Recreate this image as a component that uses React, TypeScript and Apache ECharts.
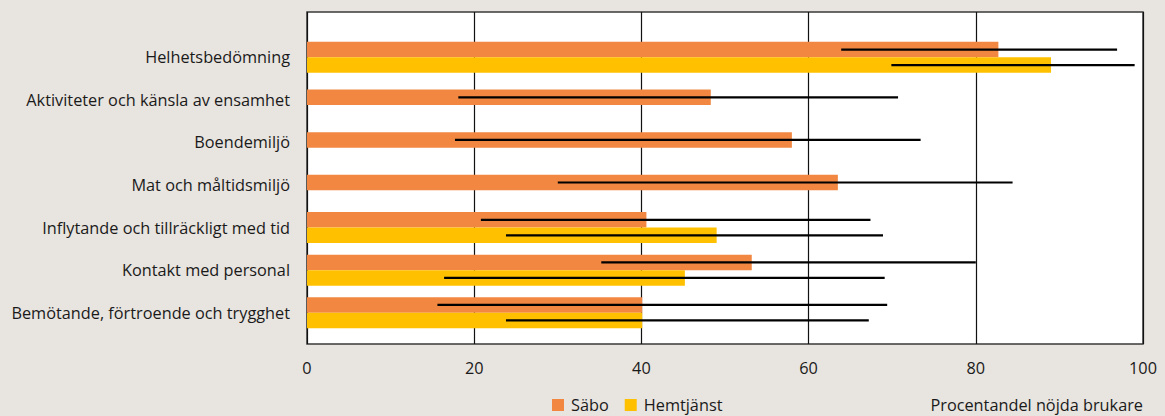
import React, { useEffect, useRef } from "react";
import * as echarts from "echarts";

const categories = [
  "Helhetsbedömning",
  "Aktiviteter och känsla av ensamhet",
  "Boendemiljö",
  "Mat och måltidsmiljö",
  "Inflytande och tillräckligt med tid",
  "Kontakt med personal",
  "Bemötande, förtroende och trygghet",
];

const saboValues = [82.7, 48.3, 58.0, 63.5, 40.6, 53.2, 40.1];
const hemtjanstValues: (number | null)[] = [89.0, null, null, null, 49.0, 45.2, 40.1];

const saboLow = [63.9, 18.1, 17.7, 30.0, 20.8, 35.2, 15.6];
const saboHigh = [96.9, 70.7, 73.4, 84.4, 67.4, 80.0, 69.4];
const hemLow: (number | null)[] = [69.9, null, null, null, 23.8, 16.4, 23.8];
const hemHigh: (number | null)[] = [99.0, null, null, null, 68.9, 69.1, 67.2];

const xTicks = { min: 0, max: 100, interval: 20 };

const ORANGE = "#f18740";
const YELLOW = "#ffc000";
const BG = "#e8e4df";
const FONT = "'Open Sans', 'Noto Sans', sans-serif";
const FS = 16.3;

const BAR_H = 15.5;
const SINGLE_SHIFT = -2.5;

function barCenterY(base: number, pos: number) {
  return base + (pos === 0 ? SINGLE_SHIFT : (pos * BAR_H) / 2);
}

export default function App() {
  const ref = useRef<HTMLDivElement>(null);

  useEffect(() => {
    if (!ref.current) return;
    const chart = echarts.init(ref.current, null, { renderer: "svg" });

    const hasHem = (i: number) => hemtjanstValues[i] != null;

    const saboData = categories.map((_, i) => [i, saboValues[i], hasHem(i) ? -1 : 0]);
    const hemData = categories
      .map((_, i) => (hasHem(i) ? [i, hemtjanstValues[i] as number, 1] : null))
      .filter((d) => d !== null) as number[][];

    const errData: number[][] = [];
    categories.forEach((_, i) => {
      errData.push([i, saboLow[i], saboHigh[i], hasHem(i) ? -1 : 0]);
      if (hasHem(i)) errData.push([i, hemLow[i] as number, hemHigh[i] as number, 1]);
    });

    const barRender = (color: string) => (params: any, api: any) => {
      const cat = api.value(0);
      const v = api.value(1);
      const pos = api.value(2);
      const start = api.coord([0, cat]);
      const end = api.coord([v, cat]);
      const cy = barCenterY(start[1], pos);
      return {
        type: "rect",
        shape: { x: start[0], y: cy - BAR_H / 2, width: end[0] - start[0], height: BAR_H },
        style: { fill: color },
      };
    };

    const option: any = {
      animation: false,
      backgroundColor: BG,
      color: [ORANGE, YELLOW],
      textStyle: { fontFamily: FONT },
      grid: [
        {
          left: 307,
          right: 22,
          top: 12,
          bottom: 72,
          show: true,
          backgroundColor: "#ffffff",
          borderColor: "#3a3a3a",
          borderWidth: 1.5,
        },
        { left: 307, right: 22, top: 36, bottom: 82 },
      ],
      xAxis: [
        {
          gridIndex: 0,
          type: "value",
          min: xTicks.min,
          max: xTicks.max,
          interval: xTicks.interval,
          axisLine: { show: false },
          axisTick: { show: false },
          splitLine: { show: true, lineStyle: { color: "#111", width: 1.2 } },
          axisLabel: { fontSize: FS, color: "#1a1a1a", margin: 16, fontFamily: FONT },
        },
        {
          gridIndex: 1,
          type: "value",
          min: xTicks.min,
          max: xTicks.max,
          show: false,
        },
      ],
      yAxis: [
        { gridIndex: 0, type: "value", show: false },
        {
          gridIndex: 1,
          type: "category",
          data: categories,
          inverse: true,
          axisLine: { show: false },
          axisTick: { show: false },
          splitLine: { show: false },
          axisLabel: { fontSize: FS, color: "#1a1a1a", margin: 17, fontFamily: FONT },
        },
      ],
      legend: {
        data: ["Säbo", "Hemtjänst"],
        left: 552,
        top: 397,
        icon: "rect",
        itemWidth: 12,
        itemHeight: 12,
        itemGap: 16,
        padding: 0,
        textStyle: {
          fontSize: FS,
          lineHeight: 15,
          color: "#1a1a1a",
          fontFamily: FONT,
          padding: [0, 0, 0, 2],
        },
      },
      title: {
        text: "Procentandel nöjda brukare",
        right: 22,
        top: 397,
        padding: 0,
        textStyle: {
          fontSize: FS,
          lineHeight: 15,
          fontWeight: "normal",
          color: "#1a1a1a",
          fontFamily: FONT,
        },
      },
      series: [
        {
          name: "Säbo",
          type: "custom",
          xAxisIndex: 1,
          yAxisIndex: 1,
          itemStyle: { color: ORANGE },
          renderItem: barRender(ORANGE),
          encode: { x: 1, y: 0 },
          data: saboData,
          z: 2,
        },
        {
          name: "Hemtjänst",
          type: "custom",
          xAxisIndex: 1,
          yAxisIndex: 1,
          itemStyle: { color: YELLOW },
          renderItem: barRender(YELLOW),
          encode: { x: 1, y: 0 },
          data: hemData,
          z: 2,
        },
        {
          name: "Spridning",
          type: "custom",
          xAxisIndex: 1,
          yAxisIndex: 1,
          renderItem: (params: any, api: any) => {
            const cat = api.value(0);
            const lo = api.coord([api.value(1), cat]);
            const hi = api.coord([api.value(2), cat]);
            const cy = barCenterY(lo[1], api.value(3));
            return {
              type: "line",
              shape: { x1: lo[0], y1: cy, x2: hi[0], y2: cy },
              style: { stroke: "#000", lineWidth: 2.2 },
            };
          },
          encode: { x: [1, 2], y: 0 },
          data: errData,
          z: 3,
        },
      ],
    };

    chart.setOption(option);
    return () => chart.dispose();
  }, []);

  return (
    <div
      ref={ref}
      style={{ position: "fixed", left: 0, top: 0, width: 1165, height: 416, background: BG }}
    />
  );
}
